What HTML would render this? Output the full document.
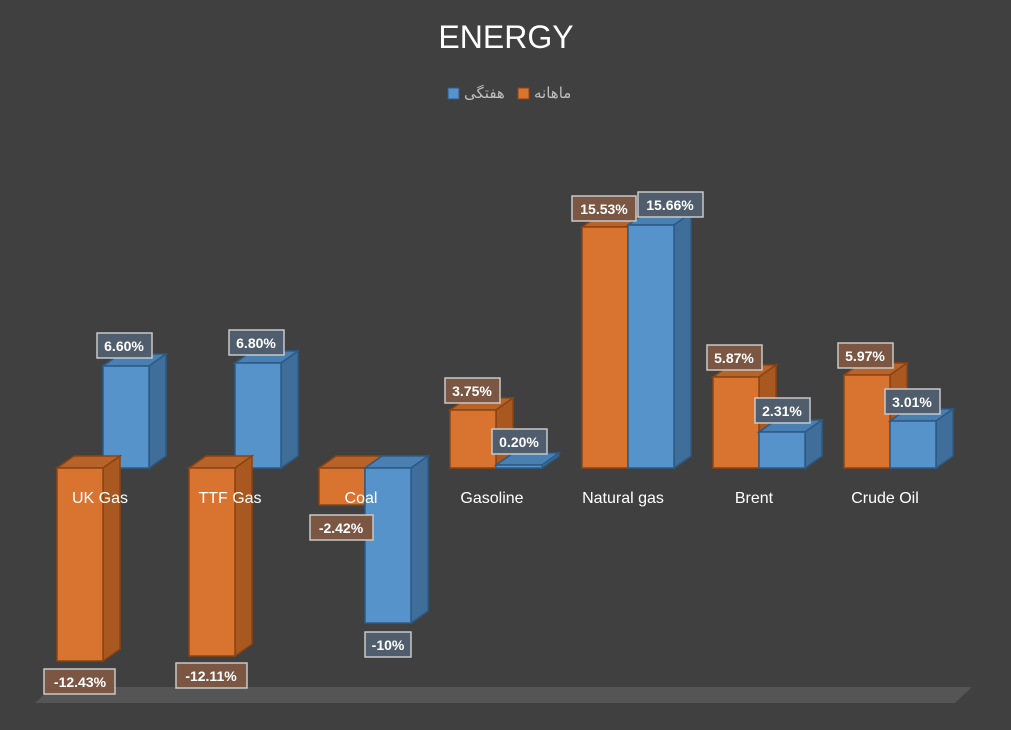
<!DOCTYPE html>
<html><head><meta charset="utf-8"><style>
body{margin:0;background:#404040;}
svg{display:block;font-family:"Liberation Sans","DejaVu Sans",sans-serif;}
.o{fill:#d97430;stroke:#8a4412;stroke-width:1.5}
.os{fill:#a9591f;stroke:#8a4412;stroke-width:1.5}
.ot{fill:#b8632a;stroke:#8a4412;stroke-width:1.5}
.b{fill:#5793cb;stroke:#2c5a86;stroke-width:1.5}
.bs{fill:#3f6e9b;stroke:#2c5a86;stroke-width:1.5}
.bt{fill:#4a7fb1;stroke:#2c5a86;stroke-width:1.5}
.lo{fill:#7a5643;stroke:#c8c8c8;stroke-width:1.5}
.lb{fill:#4f5d6c;stroke:#c8c8c8;stroke-width:1.5}
.lt{fill:#fff;font-weight:bold;font-size:14px;text-anchor:middle}
.cat{fill:#fff;font-size:16px;text-anchor:middle}
</style></head><body>
<svg width="1011" height="730" viewBox="0 0 1011 730">
<rect width="1011" height="730" fill="#404040"/>
<text x="506" y="48" fill="#fff" font-size="32" text-anchor="middle">ENERGY</text>
<rect x="448" y="88" width="11" height="11" fill="#5793cb" stroke="#2c5a86"/>
<text x="464" y="98" fill="#bfbfbf" font-size="15" font-family="'DejaVu Sans',sans-serif">هفتگی</text>
<rect x="518" y="88" width="11" height="11" fill="#d97430" stroke="#8a4412"/>
<text x="534" y="98" fill="#bfbfbf" font-size="15" font-family="'DejaVu Sans',sans-serif">ماهانه</text>
<polygon points="35,703 955,703 972,687 52,687" fill="#555"/>

<!-- UK Gas: blue first -->
<polygon class="bt" points="103,366 120,354 166,354 149,366"/>
<polygon class="bs" points="149,366 166,354 166,456 149,468"/>
<rect class="b" x="103" y="366" width="46" height="102"/>
<polygon class="ot" points="57,468 74,456 120,456 103,468"/>
<polygon class="os" points="103,468 120,456 120,649 103,661"/>
<rect class="o" x="57" y="468" width="46" height="193"/>
<!-- TTF -->
<polygon class="bt" points="235,363 252,351 298,351 281,363"/>
<polygon class="bs" points="281,363 298,351 298,456 281,468"/>
<rect class="b" x="235" y="363" width="46" height="105"/>
<polygon class="ot" points="189,468 206,456 252,456 235,468"/>
<polygon class="os" points="235,468 252,456 252,644 235,656"/>
<rect class="o" x="189" y="468" width="46" height="188"/>
<!-- Coal -->
<polygon class="ot" points="319,468 336,456 382,456 365,468"/>
<rect class="o" x="319" y="468" width="46" height="37"/>
<polygon class="bt" points="365,468 382,456 428,456 411,468"/>
<polygon class="bs" points="411,468 428,456 428,611 411,623"/>
<rect class="b" x="365" y="468" width="46" height="155"/>
<!-- Gasoline -->
<polygon class="ot" points="450,410 467,398 513,398 496,410"/>
<polygon class="os" points="496,410 513,398 513,456 496,468"/>
<rect class="o" x="450" y="410" width="46" height="58"/>
<polygon class="bt" points="496,465 513,453 559,453 542,465"/>
<polygon class="bs" points="542,465 559,453 559,456 542,468"/>
<rect class="b" x="496" y="465" width="46" height="3"/>
<!-- Natural gas -->
<polygon class="ot" points="582,227 599,215 645,215 628,227"/>
<rect class="o" x="582" y="227" width="46" height="241"/>
<polygon class="bt" points="628,225 645,213 691,213 674,225"/>
<polygon class="bs" points="674,225 691,213 691,456 674,468"/>
<rect class="b" x="628" y="225" width="46" height="243"/>
<!-- Brent -->
<polygon class="ot" points="713,377 730,365 776,365 759,377"/>
<polygon class="os" points="759,377 776,365 776,456 759,468"/>
<rect class="o" x="713" y="377" width="46" height="91"/>
<polygon class="bt" points="759,432 776,420 822,420 805,432"/>
<polygon class="bs" points="805,432 822,420 822,456 805,468"/>
<rect class="b" x="759" y="432" width="46" height="36"/>
<!-- Crude -->
<polygon class="ot" points="844,375 861,363 907,363 890,375"/>
<polygon class="os" points="890,375 907,363 907,456 890,468"/>
<rect class="o" x="844" y="375" width="46" height="93"/>
<polygon class="bt" points="890,421 907,409 953,409 936,421"/>
<polygon class="bs" points="936,421 953,409 953,456 936,468"/>
<rect class="b" x="890" y="421" width="46" height="47"/>

<!-- category labels -->
<text class="cat" x="100" y="503">UK Gas</text>
<text class="cat" x="230" y="503">TTF Gas</text>
<text class="cat" x="361" y="503">Coal</text>
<text class="cat" x="492" y="503">Gasoline</text>
<text class="cat" x="623" y="503">Natural gas</text>
<text class="cat" x="754" y="503">Brent</text>
<text class="cat" x="885" y="503">Crude Oil</text>

<!-- data labels -->
<rect class="lo" x="44" y="669" width="71" height="25"/><text class="lt" x="80" y="687">-12.43%</text>
<rect class="lb" x="97" y="333" width="55" height="25"/><text class="lt" x="124" y="351">6.60%</text>
<rect class="lo" x="176" y="663" width="71" height="25"/><text class="lt" x="211" y="681">-12.11%</text>
<rect class="lb" x="229" y="330" width="55" height="25"/><text class="lt" x="256" y="348">6.80%</text>
<rect class="lo" x="310" y="515" width="63" height="25"/><text class="lt" x="341" y="533">-2.42%</text>
<rect class="lb" x="365" y="632" width="46" height="25"/><text class="lt" x="388" y="650">-10%</text>
<rect class="lo" x="445" y="378" width="55" height="25"/><text class="lt" x="472" y="396">3.75%</text>
<rect class="lb" x="492" y="429" width="55" height="25"/><text class="lt" x="519" y="447">0.20%</text>
<rect class="lo" x="572" y="196" width="64" height="25"/><text class="lt" x="604" y="214">15.53%</text>
<rect class="lb" x="638" y="192" width="65" height="25"/><text class="lt" x="670" y="210">15.66%</text>
<rect class="lo" x="707" y="345" width="55" height="25"/><text class="lt" x="734" y="363">5.87%</text>
<rect class="lb" x="755" y="398" width="55" height="25"/><text class="lt" x="782" y="416">2.31%</text>
<rect class="lo" x="838" y="343" width="55" height="25"/><text class="lt" x="865" y="361">5.97%</text>
<rect class="lb" x="885" y="389" width="55" height="25"/><text class="lt" x="912" y="407">3.01%</text>
</svg>
</body></html>
